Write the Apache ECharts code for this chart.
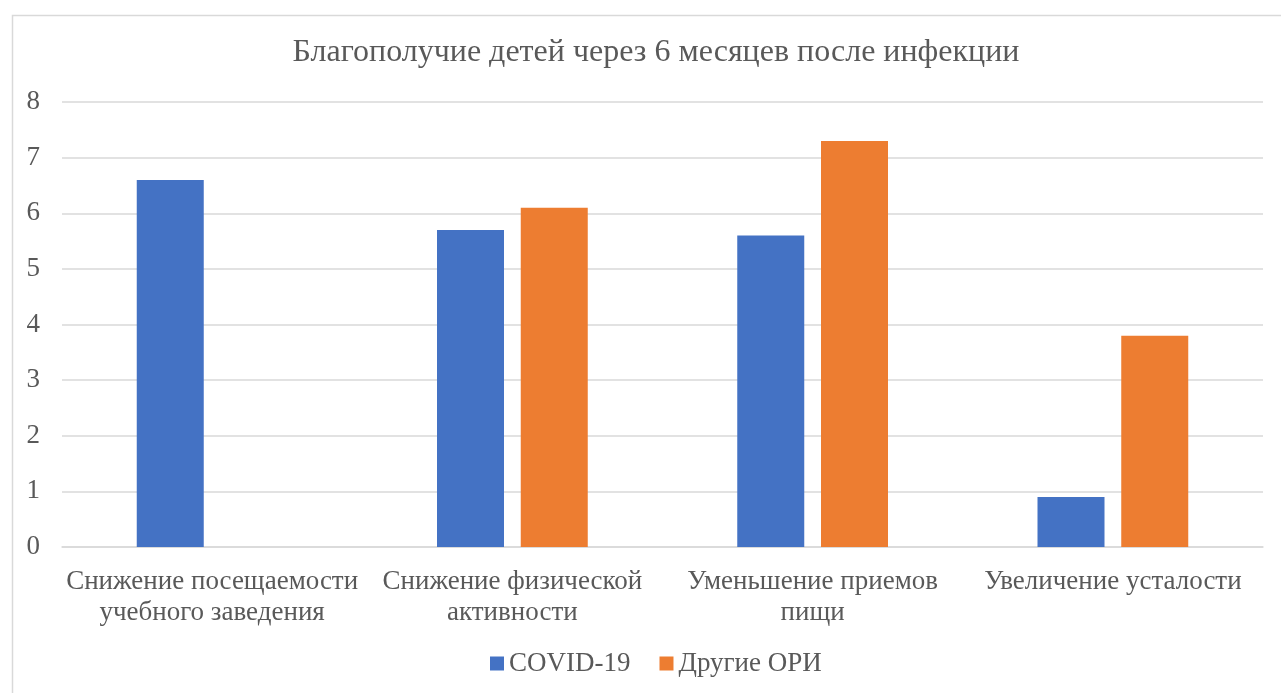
<!DOCTYPE html>
<html>
<head>
<meta charset="utf-8">
<script src="https://cdn.jsdelivr.net/npm/echarts@6/dist/echarts.min.js"></script>
<style>
html,body{margin:0;padding:0;background:#fff;}
#chart{width:1281px;height:693px;}
</style>
</head>
<body>
<div id="chart"></div>
<script>
const titleText = 'Благополучие детей через 6 месяцев после инфекции';
const categories = ['Снижение посещаемости\nучебного заведения', 'Снижение физической\nактивности', 'Уменьшение приемов\nпищи', 'Увеличение усталости'];
const seriesNames = ['COVID-19', 'Другие ОРИ'];
const covidValues = [6.6, 5.7, 5.6, 0.9];
const otherValues = [null, 6.1, 7.3, 3.8];
const yTicks = { min: 0, max: 8, interval: 1 };

const FONT = '"Liberation Serif", "Times New Roman", serif';
const TEXT = '#595959';
const chart = echarts.init(document.getElementById('chart'));
chart.setOption({
  animation: false,
  backgroundColor: '#fff',
  graphic: [{
    type: 'rect', left: 10, top: 13,
    shape: { width: 1300, height: 700 },
    style: { fill: 'none', stroke: '#d9d9d9', lineWidth: 1.5 },
    silent: true, z: -1
  }],
  title: {
    text: titleText, left: 651, top: 32, textAlign: 'center',
    textStyle: { fontFamily: FONT, fontSize: 32, fontWeight: 'normal', color: TEXT }
  },
  legend: {
    bottom: 11, left: 485, itemWidth: 14, itemHeight: 14, itemGap: 29,
    icon: 'rect',
    textStyle: { fontFamily: FONT, fontSize: 27, color: TEXT }
  },
  grid: { left: 62, right: 18, top: 102, bottom: 146, containLabel: false },
  xAxis: {
    type: 'category', data: categories,
    axisLine: { show: true, lineStyle: { color: '#d9d9d9', width: 1.5 } },
    axisTick: { show: false },
    axisLabel: {
      fontFamily: FONT, fontSize: 27, color: TEXT, margin: 19, lineHeight: 31,
      interval: 0
    }
  },
  yAxis: {
    type: 'value', min: yTicks.min, max: yTicks.max, interval: yTicks.interval,
    axisLine: { show: false }, axisTick: { show: false },
    splitLine: { lineStyle: { color: '#d9d9d9', width: 1.5 } },
    axisLabel: { fontFamily: FONT, fontSize: 27, color: TEXT, margin: 22 }
  },
  series: [
    { name: seriesNames[0], type: 'bar', data: covidValues, barWidth: 67, barGap: '25%', itemStyle: { color: '#4472c4' } },
    { name: seriesNames[1], type: 'bar', data: otherValues, barWidth: 67, barGap: '25%', itemStyle: { color: '#ed7d31' } }
  ]
});
</script>
</body>
</html>
